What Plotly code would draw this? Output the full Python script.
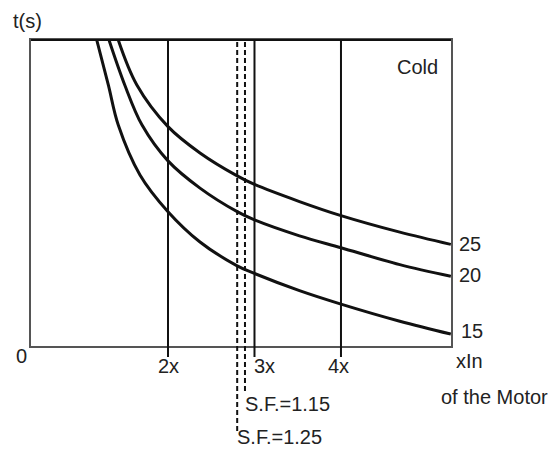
import plotly.graph_objects as go

# ---- data ----
curve_names = ["25", "20", "15"]
x_25 = [1.425, 1.64, 2.0, 2.37, 2.80, 3.0, 3.52, 4.0, 4.68, 5.27]
t_25 = [100, 85.3, 71.7, 63.1, 55.6, 52.8, 47.2, 42.6, 37.2, 33.2]
x_20 = [1.318, 1.50, 1.70, 2.0, 2.37, 2.80, 3.0, 3.52, 4.0, 4.68, 5.27]
t_20 = [100, 85.3, 72.2, 60.5, 51.6, 43.9, 41.2, 36.0, 32.1, 26.6, 22.8]
x_15 = [1.176, 1.31, 1.425, 1.676, 2.0, 2.37, 2.80, 3.0, 3.52, 4.0, 4.68, 5.27]
t_15 = [100, 85.3, 72.2, 55.9, 43.9, 34.0, 26.2, 23.7, 18.1, 13.7, 8.1, 3.9]

multiples = [2, 3, 4]
multiple_labels = ["2x", "3x", "4x"]
sf_positions = [2.80, 2.89]
sf_labels = ["S.F.=1.25", "S.F.=1.15"]

# ---- layout constants (page pixels) ----
W, H = 554, 449
L, R, T, B = 31, 451, 40, 346
FONT = "Liberation Sans, Arial, sans-serif"
TXT = "#222222"

def px(x):
    return (x - L) / (R - L)

def py(y):
    return (B - y) / (B - T)

fig = go.Figure()
for xs, ts in [(x_25, t_25), (x_20, t_20), (x_15, t_15)]:
    fig.add_trace(go.Scatter(x=xs, y=ts, mode="lines",
                             line=dict(color="#111111", width=3, shape="spline", smoothing=1.0),
                             hoverinfo="skip", showlegend=False))

shapes = []
for m in multiples:
    shapes.append(dict(type="line", xref="x", yref="paper", x0=m, x1=m,
                       y0=py(357), y1=1, line=dict(color="#111111", width=2)))
sf_ends = [431, 391]
for s, e in zip(sf_positions, sf_ends):
    shapes.append(dict(type="line", xref="x", yref="paper", x0=s, x1=s,
                       y0=py(e), y1=1, line=dict(color="#111111", width=2, dash="5px,3px")))
shapes.append(dict(type="line", xref="paper", yref="paper", x0=0, x1=1, y0=1, y1=1,
                   line=dict(color="#111111", width=2)))

annotations = []
def ann(text, x, y, xanchor="center", xref="paper", yref="paper", xshift=0, yshift=0):
    annotations.append(dict(text=text, x=x, y=y, xref=xref, yref=yref, showarrow=False,
                            xanchor=xanchor, yanchor="middle", xshift=xshift, yshift=yshift,
                            borderpad=0,
                            font=dict(family=FONT, size=20, color=TXT)))

shifts = [0, 10, -2]
for m, lab, sh in zip(multiples, multiple_labels, shifts):
    ann(lab, m, 0, xref="x", xshift=sh, yshift=-20)

sf_y = [437, 404]
for s, lab, yy in zip(sf_positions, sf_labels, sf_y):
    ann(lab, s, py(yy), xanchor="left", xref="x", xshift=-1)

label_shift = {"25": (7, 0), "20": (7, 1), "15": (9, 3)}
for name, xs, ts in [("25", x_25, t_25), ("20", x_20, t_20), ("15", x_15, t_15)]:
    sx, sy = label_shift[name]
    ann(name, xs[-1], ts[-1], xanchor="left", xref="x", yref="y", xshift=sx, yshift=sy)

ann("t(s)", px(27.5), py(21))
ann("0", px(21), py(356))
ann("Cold", px(417), py(67))
ann("xIn", px(469), py(361))
ann("of the Motor", px(494), py(397))

fig.update_layout(
    width=W, height=H,
    margin=dict(l=L, r=W - R, t=T, b=H - B, pad=0),
    paper_bgcolor="white", plot_bgcolor="white",
    shapes=shapes, annotations=annotations,
    xaxis=dict(range=[0.416, 5.272], showgrid=False, zeroline=False, showticklabels=False,
               ticks="", showline=True, mirror=True, linecolor="#555555", linewidth=2),
    yaxis=dict(range=[0, 100], showgrid=False, zeroline=False, showticklabels=False,
               ticks="", showline=True, mirror=True, linecolor="#555555", linewidth=1.5),
)

fig.write_html(
    "out.html",
    config={"displayModeBar": False},
    post_script="document.body.style.margin='0';document.documentElement.style.overflow='hidden';document.body.style.overflow='hidden';",
)
